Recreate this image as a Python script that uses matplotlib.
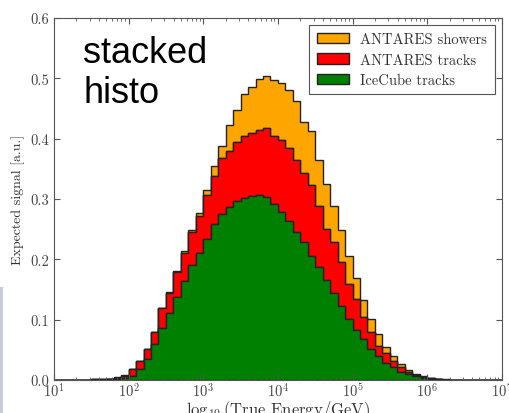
import numpy as np
import matplotlib
matplotlib.use('Agg')
import matplotlib.pyplot as plt
from matplotlib.patches import Rectangle

plt.rcParams['font.family'] = 'serif'
plt.rcParams['font.serif'] = ['cmr10']
plt.rcParams['mathtext.fontset'] = 'cm'
plt.rcParams['axes.formatter.use_mathtext'] = True

# energy binning: 10 bins per decade, 10^1 .. 10^7 GeV
edges = np.logspace(1, 7, 61)

# expected signal per bin (bins 4 .. 54 are non-empty)
first_bin = 4
icecube_tracks = [0.0, 0.0003, 0.0005, 0.001, 0.0015, 0.003, 0.007, 0.019, 0.034, 0.059,
                  0.086, 0.111, 0.137, 0.164, 0.190, 0.211, 0.234, 0.259, 0.275, 0.286,
                  0.297, 0.301, 0.305, 0.306, 0.303, 0.292, 0.278, 0.264, 0.245, 0.229,
                  0.206, 0.187, 0.165, 0.144, 0.122, 0.101, 0.083, 0.068, 0.051, 0.040,
                  0.029, 0.021, 0.014, 0.010, 0.006, 0.004, 0.002, 0.001, 0.0006, 0.0003,
                  0.0001]
antares_tracks = [0.0005, 0.0007, 0.001, 0.001, 0.0025, 0.004, 0.011, 0.012, 0.017, 0.020,
                  0.033, 0.034, 0.042, 0.047, 0.055, 0.061, 0.072, 0.079, 0.093, 0.094,
                  0.097, 0.104, 0.104, 0.108, 0.114, 0.113, 0.119, 0.121, 0.119, 0.114,
                  0.118, 0.102, 0.085, 0.084, 0.073, 0.058, 0.051, 0.036, 0.028, 0.016,
                  0.016, 0.011, 0.007, 0.004, 0.002, 0.0005, 0.0005, 0.0003, 0.0002, 0.0001,
                  0.0001]
antares_showers = [0.0, 0.0, 0.0002, 0.0002, 0.0002, 0.0005, 0.0005, 0.001, 0.001, 0.001,
                   0.001, 0.001, 0.002, 0.002, 0.003, 0.005, 0.009, 0.017, 0.019, 0.042,
                   0.053, 0.069, 0.076, 0.085, 0.086, 0.093, 0.095, 0.096, 0.098, 0.085,
                   0.088, 0.076, 0.075, 0.061, 0.053, 0.047, 0.035, 0.029, 0.022, 0.020,
                   0.010, 0.007, 0.006, 0.003, 0.002, 0.0015, 0.0005, 0.0004, 0.0002, 0.0001,
                   0.0001]

labels = ['IceCube tracks', 'ANTARES tracks', 'ANTARES showers']
colors = ['green', 'red', 'orange']
legend_order = ['ANTARES showers', 'ANTARES tracks', 'IceCube tracks']

n = len(icecube_tracks)
centers = np.sqrt(edges[:-1] * edges[1:])[first_bin:first_bin + n]

fig = plt.figure(figsize=(5.09, 4.14), dpi=100)
ax = fig.add_axes([0.106, 0.0797, 0.880, 0.8745])

ax.hist([centers, centers, centers], bins=edges,
        weights=[icecube_tracks, antares_tracks, antares_showers],
        stacked=True, histtype='stepfilled', color=colors, label=labels,
        edgecolor='#222222', linewidth=1.0)

ax.set_xscale('log')
ax.set_xlim(1e1, 1e7)
ax.set_ylim(0, 0.6)
ax.set_yticks(np.arange(0, 0.61, 0.1))
ax.set_yticklabels(['%.1f' % v for v in np.arange(0, 0.61, 0.1)])

gray = '#555555'
for s in ax.spines.values():
    s.set_color(gray)
ax.tick_params(which='both', direction='in', top=True, right=True, colors=gray,
               labelcolor='#444444', labelsize=10.5)
ax.tick_params(which='major', length=4)
ax.tick_params(which='minor', length=2)
ax.tick_params(axis='x', pad=1)

ax.set_xlabel(r'$\log_{10}$(True Energy/GeV)', fontsize=12, color='#333333', labelpad=-1)
ax.set_ylabel('Expected signal [a.u.]', fontsize=10, color='#333333', labelpad=4)

h, l = ax.get_legend_handles_labels()
order = [l.index(s) for s in legend_order]
leg = ax.legend([h[i] for i in order], [l[i] for i in order], loc='upper right',
                fontsize=10.5, fancybox=False, framealpha=1, edgecolor=gray,
                handlelength=2.2, borderpad=0.5, labelspacing=0.45)
leg.get_frame().set_linewidth(0.8)
for t in leg.get_texts():
    t.set_color('#333333')

fig.text(83 / 509, 1 - 63 / 414, 'stacked', fontsize=26, family='Liberation Sans',
         ha='left', va='baseline')
fig.text(83 / 509, 1 - 103 / 414, 'histo', fontsize=26, family='Liberation Sans',
         ha='left', va='baseline')

# strip at the left border of the slide
fig.patches.append(Rectangle((0, 0), 0.006, 0.305, transform=fig.transFigure,
                             facecolor='#c8cbdb', edgecolor='none'))

fig.savefig('out.png', dpi=100)
